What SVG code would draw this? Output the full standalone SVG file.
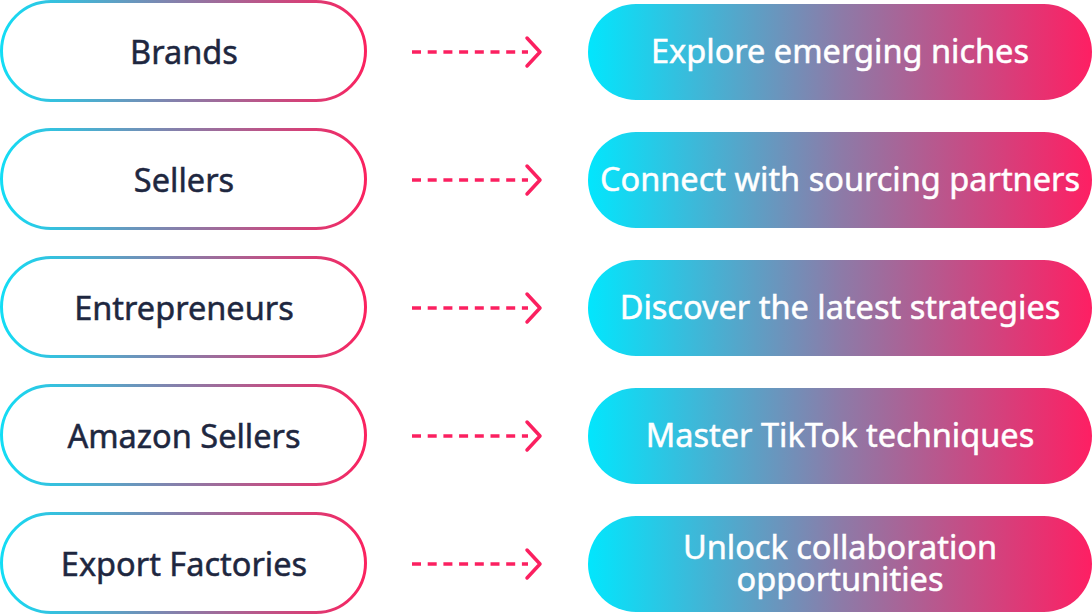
<svg xmlns="http://www.w3.org/2000/svg" width="1092" height="616" viewBox="0 0 1092 616">
<defs>
<linearGradient id="gL" x1="0" y1="0" x2="1" y2="0">
<stop offset="0" stop-color="#12DDF5"/>
<stop offset="0.5" stop-color="#8A7CA8"/>
<stop offset="1" stop-color="#FB225F"/>
</linearGradient>
<linearGradient id="gR" x1="0" y1="0" x2="1" y2="0">
<stop offset="0" stop-color="#02E6FD"/>
<stop offset="0.5" stop-color="#8C7BA8"/>
<stop offset="1" stop-color="#FE1F63"/>
</linearGradient>
<style>
.l{fill:#fff;stroke:url(#gL);stroke-width:3}
.r{fill:url(#gR)}
.lt{font-family:"Noto Sans","DejaVu Sans",sans-serif;font-size:32.5px;fill:#1E2740;stroke:#1E2740;stroke-width:0.5;text-anchor:middle}
.rt{font-family:"Noto Sans","DejaVu Sans",sans-serif;font-size:32.5px;fill:#fff;stroke:#fff;stroke-width:0.5;text-anchor:middle}
.d{stroke:#FB2060;stroke-width:3.5;fill:none;stroke-dasharray:9 6.7}
.c{stroke:#FB2060;stroke-width:3.5;fill:none;stroke-linecap:round;stroke-linejoin:round}
</style>
</defs>
<g id="connectors">
<g transform="translate(0,0)"><path class="d" d="M412 52H528"/><path class="c" d="M527 38L540 52L527 66"/></g>
<g transform="translate(0,128)"><path class="d" d="M412 52H528"/><path class="c" d="M527 38L540 52L527 66"/></g>
<g transform="translate(0,256)"><path class="d" d="M412 52H528"/><path class="c" d="M527 38L540 52L527 66"/></g>
<g transform="translate(0,384)"><path class="d" d="M412 52H528"/><path class="c" d="M527 38L540 52L527 66"/></g>
<g transform="translate(0,512)"><path class="d" d="M412 52H528"/><path class="c" d="M527 38L540 52L527 66"/></g>
</g>
<g id="n1"><rect class="l" x="1.5" y="1.5" width="364" height="99" rx="49.5"/><text class="lt" x="184" y="64">Brands</text></g>
<g id="n2"><rect class="l" x="1.5" y="129.5" width="364" height="99" rx="49.5"/><text class="lt" x="184" y="192">Sellers</text></g>
<g id="n3"><rect class="l" x="1.5" y="257.5" width="364" height="99" rx="49.5"/><text class="lt" x="184" y="320">Entrepreneurs</text></g>
<g id="n4"><rect class="l" x="1.5" y="385.5" width="364" height="99" rx="49.5"/><text class="lt" x="184" y="448">Amazon Sellers</text></g>
<g id="n5"><rect class="l" x="1.5" y="513.5" width="364" height="99" rx="49.5"/><text class="lt" x="184" y="576">Export Factories</text></g>
<g id="r1"><rect class="r" x="588" y="4" width="504" height="96" rx="48"/><text class="rt" x="840" y="63">Explore emerging niches</text></g>
<g id="r2"><rect class="r" x="588" y="132" width="504" height="96" rx="48"/><text class="rt" x="840" y="191">Connect with sourcing partners</text></g>
<g id="r3"><rect class="r" x="588" y="260" width="504" height="96" rx="48"/><text class="rt" x="840" y="319">Discover the latest strategies</text></g>
<g id="r4"><rect class="r" x="588" y="388" width="504" height="96" rx="48"/><text class="rt" x="840" y="447">Master TikTok techniques</text></g>
<g id="r5"><rect class="r" x="588" y="516" width="504" height="96" rx="48"/><text class="rt" x="840" y="559">Unlock collaboration<tspan x="840" y="591">opportunities</tspan></text></g>
</svg>
